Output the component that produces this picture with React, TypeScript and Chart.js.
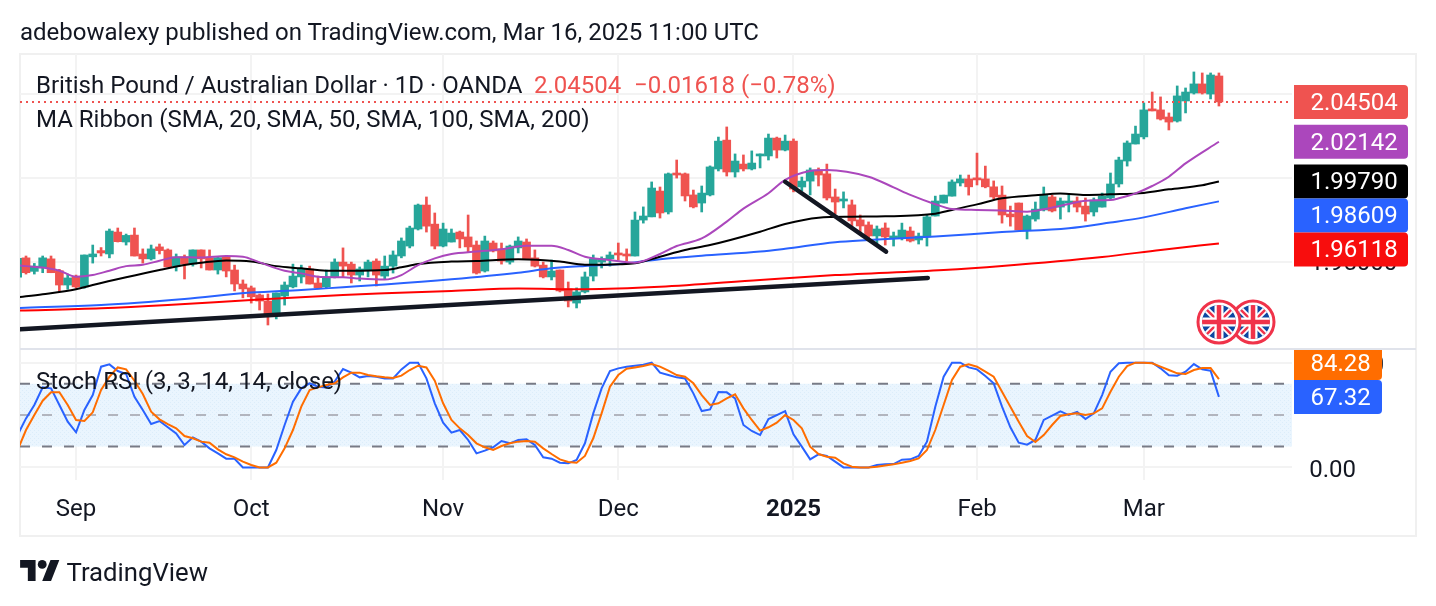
import React, { useEffect, useRef } from "react";
import { Chart, registerables } from "chart.js";

Chart.register(...registerables);

const opens = [1.9411,1.9526,1.9446,1.9466,1.9520,1.9450,1.9365,1.9414,1.9354,1.9532,1.9569,1.9549,1.9679,1.9620,1.9661,1.9549,1.9520,1.9591,1.9573,1.9477,1.9532,1.9489,1.9573,1.9526,1.9454,1.9529,1.9454,1.9371,1.9348,1.9306,1.9270,1.9181,1.9300,1.9354,1.9413,1.9460,1.9377,1.9354,1.9413,1.9501,1.9489,1.9424,1.9454,1.9507,1.9418,1.9477,1.9537,1.9596,1.9697,1.9839,1.9726,1.9596,1.9620,1.9679,1.9650,1.9602,1.9448,1.9614,1.9579,1.9501,1.9585,1.9620,1.9526,1.9483,1.9413,1.9454,1.9342,1.9258,1.9324,1.9418,1.9501,1.9520,1.9555,1.9549,1.9537,1.9750,1.9769,1.9922,1.9798,2.0029,2.0024,1.9899,1.9851,1.9899,2.0053,2.0224,2.0035,2.0082,2.0053,2.0130,2.0130,2.0236,2.0165,2.0218,1.9946,1.9981,2.0047,2.0024,1.9887,1.9863,1.9840,1.9751,1.9721,1.9656,1.9703,1.9644,1.9644,1.9685,1.9632,1.9650,1.9774,1.9851,1.9892,1.9970,1.9994,2.0000,1.9994,1.9947,1.9898,1.9786,1.9851,1.9691,1.9756,1.9810,1.9887,1.9827,1.9851,1.9863,1.9833,1.9798,1.9827,1.9881,1.9964,2.0100,2.0201,2.0243,2.0409,2.0403,2.0361,2.0337,2.0456,2.0503,2.0557,2.0497,2.0604];
const closes = [1.9523,1.9438,1.9477,1.9526,1.9438,1.9365,1.9407,1.9354,1.9543,1.9549,1.9555,1.9685,1.9622,1.9659,1.9537,1.9520,1.9579,1.9569,1.9472,1.9532,1.9489,1.9573,1.9520,1.9454,1.9527,1.9448,1.9371,1.9342,1.9295,1.9270,1.9181,1.9318,1.9365,1.9418,1.9460,1.9371,1.9348,1.9413,1.9501,1.9477,1.9424,1.9460,1.9501,1.9424,1.9477,1.9543,1.9626,1.9703,1.9839,1.9714,1.9596,1.9697,1.9673,1.9638,1.9591,1.9436,1.9626,1.9567,1.9507,1.9596,1.9626,1.9520,1.9477,1.9413,1.9448,1.9330,1.9270,1.9324,1.9413,1.9520,1.9522,1.9543,1.9543,1.9537,1.9750,1.9774,1.9940,1.9792,2.0024,2.0017,1.9893,1.9828,1.9910,2.0065,2.0218,2.0035,2.0100,2.0053,2.0088,2.0142,2.0236,2.0165,2.0218,1.9934,1.9981,2.0047,2.0017,1.9881,1.9857,1.9875,1.9745,1.9715,1.9656,1.9697,1.9650,1.9656,1.9691,1.9626,1.9655,1.9769,1.9863,1.9898,1.9976,1.9994,1.9947,1.9988,1.9947,1.9887,1.9780,1.9769,1.9691,1.9774,1.9815,1.9898,1.9804,1.9863,1.9863,1.9827,1.9786,1.9869,1.9892,1.9964,2.0106,2.0207,2.0260,2.0403,2.0397,2.0349,2.0331,2.0486,2.0509,2.0557,2.0503,2.0610,2.04504];
const highs = [1.9523,1.9537,1.9493,1.9537,1.9537,1.9458,1.9430,1.9424,1.9543,1.9602,1.9587,1.9697,1.9703,1.9667,1.9703,1.9579,1.9602,1.9608,1.9579,1.9549,1.9543,1.9573,1.9573,1.9573,1.9533,1.9537,1.9483,1.9395,1.9359,1.9312,1.9312,1.9318,1.9383,1.9489,1.9483,1.9477,1.9418,1.9454,1.9520,1.9585,1.9501,1.9472,1.9513,1.9520,1.9537,1.9567,1.9644,1.9714,1.9845,1.9887,1.9792,1.9732,1.9697,1.9685,1.9780,1.9626,1.9655,1.9626,1.9614,1.9602,1.9650,1.9638,1.9573,1.9501,1.9513,1.9454,1.9383,1.9348,1.9442,1.9543,1.9532,1.9561,1.9614,1.9579,1.9798,1.9828,1.9976,1.9946,2.0029,2.0106,2.0029,1.9928,1.9952,2.0071,2.0242,2.0302,2.0142,2.0136,2.0160,2.0142,2.0260,2.0242,2.0254,2.0231,2.0005,2.0059,2.0059,2.0082,1.9934,1.9917,1.9869,1.9780,1.9739,1.9715,1.9733,1.9679,1.9732,1.9709,1.9673,1.9780,1.9892,1.9898,1.9988,2.0017,2.0017,2.0147,2.0070,1.9982,1.9952,1.9833,1.9851,1.9780,1.9857,1.9946,1.9898,1.9881,1.9898,1.9887,1.9881,1.9881,1.9910,2.0029,2.0123,2.0219,2.0307,2.0444,2.0509,2.0480,2.0385,2.0545,2.0533,2.0628,2.0622,2.0622,2.0622];
const lows = [1.9411,1.9430,1.9430,1.9438,1.9438,1.9326,1.9340,1.9346,1.9346,1.9495,1.9537,1.9526,1.9620,1.9602,1.9537,1.9495,1.9513,1.9549,1.9472,1.9448,1.9401,1.9477,1.9466,1.9454,1.9430,1.9413,1.9330,1.9289,1.9258,1.9217,1.9128,1.9164,1.9246,1.9348,1.9377,1.9371,1.9342,1.9348,1.9407,1.9413,1.9377,1.9389,1.9413,1.9359,1.9401,1.9436,1.9526,1.9585,1.9691,1.9679,1.9579,1.9591,1.9620,1.9585,1.9561,1.9430,1.9442,1.9561,1.9489,1.9489,1.9555,1.9520,1.9472,1.9407,1.9395,1.9324,1.9235,1.9229,1.9318,1.9389,1.9466,1.9477,1.9513,1.9507,1.9537,1.9732,1.9769,1.9762,1.9786,1.9999,1.9863,1.9822,1.9798,1.9893,2.0041,2.0011,2.0005,2.0041,2.0047,2.0059,2.0106,2.0118,2.0160,1.9917,1.9922,1.9899,1.9952,1.9869,1.9786,1.9822,1.9697,1.9667,1.9632,1.9602,1.9602,1.9596,1.9632,1.9620,1.9608,1.9596,1.9774,1.9851,1.9892,1.9952,1.9898,1.9958,1.9941,1.9875,1.9732,1.9714,1.9691,1.9638,1.9744,1.9804,1.9798,1.9756,1.9798,1.9798,1.9744,1.9774,1.9827,1.9875,1.9946,2.0070,2.0201,2.0231,2.0397,2.0343,2.0284,2.0331,2.0385,2.0497,2.0497,2.0468,2.0426];

const sma20Bars = [0,1,3,5,7,9,11,13,15,17,19,22,25,27,29,32,34,36,39,41,44,46,48,50,52,55,58,61,64,66,68,71,74,77,79,82,85,87,90,92,95,97,102,105,107,110,112,115,118,121,123,126,128,131,132,134,136,138,140,144];
const sma20 = [1.9483,1.9477,1.9469,1.9450,1.9414,1.9424,1.9450,1.9477,1.9485,1.9509,1.9530,1.9528,1.9537,1.9533,1.9499,1.9450,1.9434,1.9414,1.9411,1.9403,1.9397,1.9424,1.9483,1.9523,1.9549,1.9563,1.9577,1.9598,1.9598,1.9573,1.9533,1.9513,1.9497,1.9549,1.9596,1.9641,1.9741,1.9818,1.9909,1.9988,2.0041,2.0047,2.0007,1.9944,1.9899,1.9844,1.9815,1.9810,1.9806,1.9800,1.9814,1.9845,1.9865,1.9869,1.9879,1.9908,1.9952,2.0007,2.0086,2.02142];
const sma50Bars = [0,3,7,9,13,17,20,22,25,28,31,34,37,40,44,46,48,52,55,60,65,68,72,74,77,80,83,89,92,96,100,104,110,112,115,118,122,125,128,131,135,138,142,144];
const sma50 = [1.9292,1.9310,1.9340,1.9365,1.9411,1.9454,1.9483,1.9497,1.9511,1.9505,1.9477,1.9464,1.9450,1.9450,1.9454,1.9470,1.9489,1.9504,1.9508,1.9518,1.9504,1.9485,1.9488,1.9494,1.9533,1.9573,1.9602,1.9681,1.9727,1.9764,1.9770,1.9772,1.9788,1.9810,1.9843,1.9879,1.9897,1.9907,1.9899,1.9903,1.9911,1.9932,1.9956,1.9979];
const sma100Bars = [0,10,20,28,34,39,44,52,60,64,68,72,77,82,89,92,98,102,110,118,126,131,135,140,144];
const sma100 = [1.9229,1.9246,1.9282,1.9320,1.9336,1.9352,1.9368,1.9399,1.9438,1.9464,1.9478,1.9488,1.9518,1.9539,1.9563,1.9580,1.9619,1.9632,1.9652,1.9679,1.9701,1.9735,1.9766,1.9820,1.98609];
const sma200Bars = [0,10,18,28,39,44,52,60,68,77,89,98,111,118,130,137,144];
const sma200 = [1.9213,1.9227,1.9246,1.9276,1.9306,1.9316,1.9330,1.9344,1.9340,1.9354,1.9395,1.9424,1.9454,1.9478,1.9531,1.9573,1.96118];

const stochK = [31,46.8,59.6,76.4,75.5,59.6,43.7,33.5,54.8,69.1,96.2,98.4,92,89.2,67.5,54.8,41.4,44.3,38.3,32.5,21.4,28.7,24.6,18.2,13.4,8.3,8.3,0,0,0,0,16.6,40.5,62.8,75.5,80.3,77.1,76.4,81.9,94,90.5,86,87.3,86.6,85,85,93.6,100,100,85,61.2,42.7,33.2,35.7,26.2,13.4,16,19.2,25.2,23,26.2,26.8,21.4,9.6,8.3,4.5,3.9,7.1,23,51.6,75.5,92,94.6,96.2,97.1,98.1,100,90.5,88.2,86,85,70.7,53.8,55.4,72,71.7,65.9,40.5,34.8,30.9,46.2,50,53.8,31.6,19.8,7.7,12.5,10.9,5.5,0,0,0,0,2.3,2.9,3.2,7.4,7.7,10.9,24.6,58,86.6,100,100,95.5,93.6,87.3,80.3,58,38.3,23.6,21.7,26.2,45.3,49.4,53.5,50,52.9,46.2,51.6,69.1,91.4,99.4,100,100,100,100,94.6,87.9,87.6,91.4,98.7,93.6,92.4,67.32];
const stochD = [16.6,35.7,50,63.7,71.7,71.7,59.6,45.3,44.3,52.6,73.9,86.6,95.5,93.6,82.8,70.1,53.2,45.9,41.4,37.3,30,27.8,24.6,23.6,17.2,12.5,9.6,5.5,2.3,0,0,4.5,18.2,35.7,58,73.9,76.4,78.7,80.3,86,90.5,90.5,88.2,87,86,85.4,87.6,93,97.1,95.5,82.8,61.2,45.3,37.3,30.9,23,19.2,16.6,20.4,23,24.6,25.2,24.6,18.2,12.8,7.7,5.2,4.5,10.9,27.8,51.6,77.1,88.2,94.3,95.5,96.8,98.7,96.2,92.4,88.2,86.6,80.3,69.1,59.6,61.2,65.9,69.8,56.4,45.3,35.1,38.3,42.7,50,45.3,37.3,19.8,12.8,10.2,9.3,3.9,0.7,0,0,0.7,1.9,2.9,4.5,6.1,8.6,16.6,35.7,59.6,83.5,96.2,98.4,96.2,91.4,86.6,72.3,58,43.7,30,24.3,30.9,40.5,49.1,50.7,51.6,50,51.6,56.4,72.3,86.6,96.8,100,100,99.4,96.2,93,89.8,89.2,93,94.9,94.9,84.28];

const supportBars = [0.28, 109.1];
const supportPrices = [1.9103, 1.9407];
const downTrendBars = [92, 104.1];
const downTrendPrices = [1.9977, 1.9563];

const monthBars = [7, 28, 51, 72, 93, 115, 135];
const monthLabels = ["Sep", "Oct", "Nov", "Dec", "2025", "Feb", "Mar"];
const priceTicks = [2.05, 2.0, 1.95];
const stochTicks = [100, 0];
const lastPrice = 2.04504;

const titleText = "adebowalexy published on TradingView.com, Mar 16, 2025 11:00 UTC";
const symbolText = "British Pound / Australian Dollar · 1D · OANDA";
const changeText = "−0.01618 (−0.78%)";
const ribbonText = "MA Ribbon (SMA, 20, SMA, 50, SMA, 100, SMA, 200)";
const stochText = "Stoch RSI (3, 3, 14, 14, close)";

const UP = "#26a69a";
const DOWN = "#ef5350";
const INK = "#131722";
const FONT = "Roboto";
const GRID = "#f3f3f3";

const X_MIN = 0.28;
const X_MAX = 152.76;

const pts = (xs: number[], ys: number[]) => xs.map((x, i) => ({ x, y: ys[i] }));
const allBars = opens.map((_, i) => i);

function bandPattern(ctx: CanvasRenderingContext2D) {
  const c = document.createElement("canvas");
  c.width = 4;
  c.height = 4;
  const p = c.getContext("2d")!;
  p.fillStyle = "#eaf5fe";
  p.fillRect(0, 0, 4, 4);
  p.fillStyle = "#dcedfa";
  p.fillRect(0, 0, 1, 1);
  p.fillRect(2, 2, 1, 1);
  return ctx.createPattern(c, "repeat");
}

function drawFlag(ctx: CanvasRenderingContext2D, cx: number, cy: number) {
  ctx.save();
  ctx.beginPath();
  ctx.arc(cx, cy, 21, 0, Math.PI * 2);
  ctx.fillStyle = "#fff";
  ctx.fill();
  ctx.lineWidth = 3;
  ctx.strokeStyle = "#f0334a";
  ctx.stroke();
  ctx.beginPath();
  ctx.arc(cx, cy, 17, 0, Math.PI * 2);
  ctx.clip();
  ctx.fillStyle = "#0d47a1";
  ctx.fillRect(cx - 17, cy - 17, 34, 34);
  const line = (x1: number, y1: number, x2: number, y2: number, w: number, c: string) => {
    ctx.beginPath();
    ctx.moveTo(cx + x1, cy + y1);
    ctx.lineTo(cx + x2, cy + y2);
    ctx.lineWidth = w;
    ctx.strokeStyle = c;
    ctx.stroke();
  };
  line(-17, -17, 17, 17, 6, "#fff");
  line(-17, 17, 17, -17, 6, "#fff");
  line(-17, -17, 17, 17, 2.5, "#f0334a");
  line(-17, 17, 17, -17, 2.5, "#f0334a");
  line(-17, 0, 17, 0, 9, "#fff");
  line(0, -17, 0, 17, 9, "#fff");
  line(-17, 0, 17, 0, 4.5, "#f0334a");
  line(0, -17, 0, 17, 4.5, "#f0334a");
  ctx.restore();
}

function valueTag(
  ctx: CanvasRenderingContext2D,
  top: number,
  width: number,
  bg: string,
  text: string,
  clipTop: number,
) {
  const left = 1294;
  const h = 34;
  ctx.save();
  ctx.beginPath();
  ctx.rect(left, clipTop, width + 2, 300);
  ctx.clip();
  ctx.beginPath();
  ctx.roundRect(left, top, width, h, [0, 4, 4, 0]);
  ctx.fillStyle = bg;
  ctx.fill();
  ctx.fillStyle = "#fff";
  ctx.font = `24px ${FONT}`;
  ctx.textAlign = "left";
  ctx.textBaseline = "middle";
  ctx.fillText(text, 1310.5, top + h / 2 + 2);
  ctx.restore();
}

const paintPlugin = {
  id: "paint",
  beforeDraw(chart: any) {
    const ctx = chart.ctx;
    ctx.save();
    ctx.strokeStyle = "#f0f0f0";
    ctx.lineWidth = 2;
    ctx.strokeRect(20, 54, 1396, 482);
    ctx.restore();
  },
  afterDraw(chart: any) {
    const ctx: CanvasRenderingContext2D = chart.ctx;
    const yP = chart.scales.y;
    const yS = chart.scales.y2;

    ctx.save();
    ctx.fillStyle = "#e0e3eb";
    ctx.fillRect(20, 348, 1396, 2);
    ctx.restore();

    drawFlag(ctx, 1253, 322);
    drawFlag(ctx, 1219, 322);

    const priceTags = [
      { v: lastPrice, bg: DOWN, t: lastPrice.toFixed(5) },
      { v: sma20[sma20.length - 1], bg: "#ab47bc", t: sma20[sma20.length - 1].toFixed(5) },
      { v: sma50[sma50.length - 1], bg: "#000000", t: sma50[sma50.length - 1].toFixed(5) },
      { v: sma100[sma100.length - 1], bg: "#2962ff", t: sma100[sma100.length - 1].toFixed(5) },
      { v: sma200[sma200.length - 1], bg: "#f80d0d", t: sma200[sma200.length - 1].toFixed(5) },
    ];
    let bottom = -Infinity;
    for (const tag of priceTags) {
      const top = Math.max(yP.getPixelForValue(tag.v) - 17, bottom);
      valueTag(ctx, top, 114, tag.bg, tag.t, 54);
      bottom = top + 34;
    }

    ctx.save();
    ctx.font = `24px ${FONT}`;
    ctx.textAlign = "left";
    ctx.textBaseline = "middle";
    ctx.fillStyle = INK;
    ctx.fillText(stochTicks[0].toFixed(2), 1310.5, yS.getPixelForValue(stochTicks[0]) + 3);
    ctx.restore();

    const kVal = stochK[stochK.length - 1];
    const dVal = stochD[stochD.length - 1];
    const kTop = yS.getPixelForValue(kVal) - 17;
    const dTop = Math.min(yS.getPixelForValue(dVal) - 17, kTop - 34);
    valueTag(ctx, dTop, 88, "#ff6d00", dVal.toFixed(2), 350);
    valueTag(ctx, kTop, 88, "#2962ff", kVal.toFixed(2), 350);

    ctx.save();
    ctx.font = `24px ${FONT}`;
    ctx.textAlign = "left";
    ctx.textBaseline = "middle";
    ctx.fillStyle = INK;
    ctx.fillText(symbolText, 36, 87);
    ctx.fillText(ribbonText, 36, 121);
    ctx.fillText(stochText, 36, 383);
    ctx.fillStyle = DOWN;
    ctx.fillText(lastPrice.toFixed(5), 534, 87);
    ctx.fillText(changeText, 634, 87);
    ctx.restore();
  },
};

export default function App() {
  const ref = useRef<HTMLCanvasElement>(null);

  useEffect(() => {
    const canvas = ref.current!;
    const lineBase = {
      type: "line" as const,
      pointRadius: 0,
      borderWidth: 2,
      fill: false,
      yAxisID: "y",
    };
    const chart = new Chart(canvas, {
      data: {
        datasets: [
          { ...lineBase, label: "Support", data: pts(supportBars, supportPrices), borderColor: INK, borderWidth: 4.5, order: 0, borderCapStyle: "round" },
          { ...lineBase, label: "Down trend", data: pts(downTrendBars, downTrendPrices), borderColor: INK, borderWidth: 4.5, order: 0, borderCapStyle: "round" },
          { ...lineBase, label: "Stoch D", data: pts(allBars, stochD), borderColor: "#ff6d00", yAxisID: "y2", order: 1 },
          { ...lineBase, label: "Stoch K", data: pts(allBars, stochK), borderColor: "#2962ff", yAxisID: "y2", order: 2 },
          { ...lineBase, label: "SMA 20", data: pts(sma20Bars, sma20), borderColor: "#ab47bc", cubicInterpolationMode: "monotone", order: 3 },
          { ...lineBase, label: "SMA 50", data: pts(sma50Bars, sma50), borderColor: "#000000", cubicInterpolationMode: "monotone", order: 4 },
          { ...lineBase, label: "SMA 100", data: pts(sma100Bars, sma100), borderColor: "#2962ff", cubicInterpolationMode: "monotone", order: 5 },
          { ...lineBase, label: "SMA 200", data: pts(sma200Bars, sma200), borderColor: "#ff0000", cubicInterpolationMode: "monotone", order: 6 },
          { ...lineBase, label: "Last", data: pts([X_MIN, X_MAX], [lastPrice, lastPrice]), borderColor: DOWN, borderDash: [2, 4], order: 7 },
          {
            type: "bar" as const,
            label: "Body",
            data: allBars.map((i) => ({ x: i, y: [opens[i], closes[i]] })),
            backgroundColor: allBars.map((i) => (closes[i] >= opens[i] ? UP : DOWN)),
            barThickness: 8,
            grouped: false,
            yAxisID: "y",
            order: 8,
          },
          {
            type: "bar" as const,
            label: "Wick",
            data: allBars.map((i) => ({ x: i, y: [lows[i], highs[i]] })),
            backgroundColor: allBars.map((i) => (closes[i] >= opens[i] ? UP : DOWN)),
            barThickness: 2,
            grouped: false,
            yAxisID: "y",
            order: 9,
          },
          { ...lineBase, label: "80", data: pts([X_MIN, X_MAX], [80, 80]), borderColor: "#787b86", borderDash: [10, 12], yAxisID: "y2", order: 10 },
          { ...lineBase, label: "50", data: pts([X_MIN, X_MAX], [50, 50]), borderColor: "#b2b5be", borderDash: [10, 12], yAxisID: "y2", order: 10 },
          { ...lineBase, label: "20", data: pts([X_MIN, X_MAX], [20, 20]), borderColor: "#787b86", borderDash: [10, 12], yAxisID: "y2", order: 10 },
          {
            ...lineBase,
            label: "Band",
            data: pts([X_MIN, X_MAX], [80, 80]),
            borderWidth: 0,
            borderColor: "rgba(0,0,0,0)",
            fill: { value: 20 },
            backgroundColor: bandPattern(canvas.getContext("2d")!),
            yAxisID: "y2",
            order: 11,
          },
        ] as any,
      },
      plugins: [paintPlugin],
      options: {
        responsive: false,
        animation: false,
        events: [],
        layout: { padding: { left: 20, top: 54, right: 0, bottom: 0 } },
        plugins: { legend: { display: false }, tooltip: { enabled: false } },
        scales: {
          x: {
            type: "linear",
            min: X_MIN,
            max: X_MAX,
            offset: false,
            afterBuildTicks: (s: any) => {
              s.ticks = monthBars.map((value) => ({ value }));
            },
            afterFit: (s: any) => {
              s.height = 126;
              s.paddingLeft = 0;
              s.paddingRight = 0;
            },
            grid: { color: GRID, lineWidth: 2, drawTicks: false, offset: false },
            border: { display: false },
            ticks: {
              autoSkip: false,
              maxRotation: 0,
              padding: 16,
              color: INK,
              font: (c: any) => ({
                family: FONT,
                size: 24,
                weight: c.tick && c.tick.value === 93 ? "bold" : "normal",
              }),
              callback: (v: any) => monthLabels[monthBars.indexOf(Number(v))],
            },
          },
          y: {
            position: "right",
            weight: 1,
            min: 1.82092,
            max: 2.07344,
            afterBuildTicks: (s: any) => {
              s.ticks = priceTicks.map((value) => ({ value }));
            },
            afterFit: (s: any) => {
              s.width = 144;
              s.paddingTop = 0;
              s.paddingBottom = 0;
            },
            grid: { color: GRID, lineWidth: 2, drawTicks: false },
            border: { display: false },
            ticks: {
              autoSkip: false,
              padding: 18,
              labelOffset: 2,
              color: INK,
              font: { family: FONT, size: 24 },
              callback: (v: any) => Number(v).toFixed(5),
            },
          },
          y2: {
            position: "right",
            weight: 0,
            min: -12.03,
            max: 394.8,
            afterBuildTicks: (s: any) => {
              s.ticks = stochTicks.map((value) => ({ value }));
            },
            afterFit: (s: any) => {
              s.width = 0;
              s.paddingTop = 0;
              s.paddingBottom = 0;
            },
            grid: { color: GRID, lineWidth: 2, drawTicks: false },
            border: { display: false },
            ticks: {
              autoSkip: false,
              mirror: true,
              padding: 64,
              labelOffset: 4,
              color: INK,
              font: { family: FONT, size: 24 },
              callback: (v: any) => (Number(v) === stochTicks[0] ? "" : Number(v).toFixed(2)),
            },
          },
        },
      } as any,
    });
    return () => chart.destroy();
  }, []);

  return (
    <div style={{ position: "fixed", left: 0, top: 0, width: 1436, height: 606, background: "#fff", overflow: "hidden" }}>
      <canvas ref={ref} width={1436} height={606} style={{ display: "block", position: "absolute", left: 0, top: 0 }} />
      <div style={{ position: "absolute", left: 20, top: 17, font: `24px/30px ${FONT}`, color: INK, whiteSpace: "nowrap" }}>
        {titleText}
      </div>
      <svg style={{ position: "absolute", left: 20, top: 560 }} width="40" height="21" viewBox="0 0 36 19">
        <path d="M14 19H7V7H0V0h14v19zM28 19h-8L27.5 0h8L28 19z" fill={INK} />
        <circle cx="20" cy="4" r="4" fill={INK} />
      </svg>
      <div style={{ position: "absolute", left: 66.5, top: 556, font: `25.7px/32px ${FONT}`, color: INK, whiteSpace: "nowrap" }}>
        TradingView
      </div>
    </div>
  );
}
